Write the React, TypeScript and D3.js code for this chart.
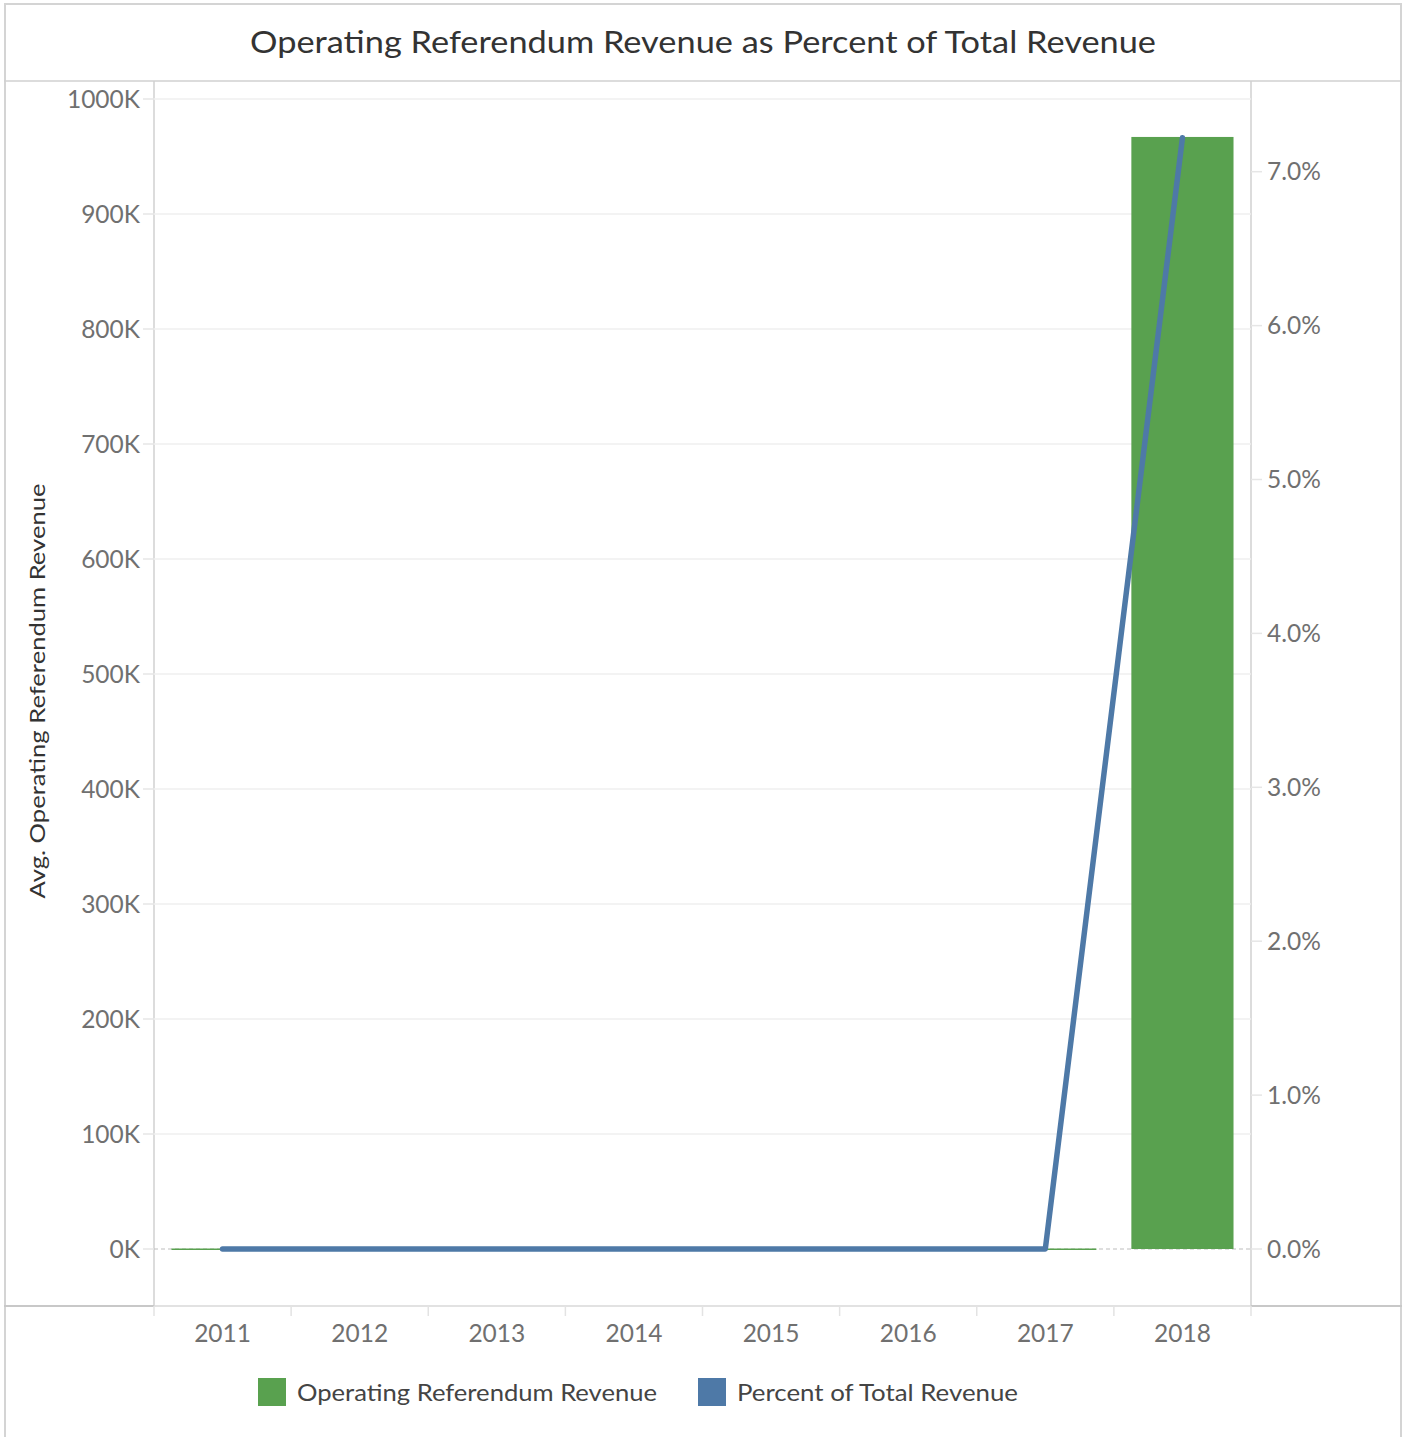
import React from "react";
import * as d3 from "d3";

const years = ["2011", "2012", "2013", "2014", "2015", "2016", "2017", "2018"];
const revenue = [0, 0, 0, 0, 0, 0, 0, 967000];
const percent = [0, 0, 0, 0, 0, 0, 0, 7.22];
const leftTicks = [0, 100000, 200000, 300000, 400000, 500000, 600000, 700000, 800000, 900000, 1000000];
const rightTicks = [0, 1, 2, 3, 4, 5, 6, 7];
const legendItems = [
  { label: "Operating Referendum Revenue", color: "#59a14f" },
  { label: "Percent of Total Revenue", color: "#4e79a7" },
];

const W = 1405;
const H = 1437;
const plotL = 154;
const plotR = 1251;
const plotB = 1306;
const FONT = "Lato, 'Open Sans', sans-serif";

export default function App() {
  const x = d3.scaleBand<string>().domain(years).range([plotL, plotR]).paddingInner(0.255).paddingOuter(0.1275);
  const xc = d3.scaleBand<string>().domain(years).range([plotL, plotR]);
  const yL = d3.scaleLinear().domain([0, 1000000]).range([1249, 99]);
  const yR = d3.scaleLinear().domain([0, 7]).range([1249, 1249 - 7 * 153.9]);

  const line = d3
    .line<number>()
    .x((_, i) => (xc(years[i]) as number) + xc.bandwidth() / 2)
    .y((d) => yR(d));

  const fmtK = (v: number) => `${Math.round(v / 1000)}K`;

  return (
    <svg width={W} height={H} style={{ position: "absolute", left: 0, top: 0, background: "#fff" }} fontFamily={FONT}>
      <rect x={5} y={4} width={1396} height={1440} fill="none" stroke="#d4d4d4" strokeWidth={2} />
      <text x={703} y={53} textAnchor="middle" fontSize={31} fill="#333" textLength={906} lengthAdjust="spacingAndGlyphs">
        Operating Referendum Revenue as Percent of Total Revenue
      </text>
      <line x1={4} x2={1402} y1={81} y2={81} stroke="#d0d0d0" strokeWidth={1.5} />
      <line x1={plotL} x2={plotL} y1={81} y2={plotB} stroke="#d0d0d0" strokeWidth={1.5} />
      <line x1={plotR} x2={plotR} y1={81} y2={plotB} stroke="#d0d0d0" strokeWidth={1.5} />
      <line x1={4} x2={plotL} y1={plotB} y2={plotB} stroke="#c8c8c8" strokeWidth={2} />
      <line x1={plotR} x2={1402} y1={plotB} y2={plotB} stroke="#c8c8c8" strokeWidth={2} />
      <line x1={plotL} x2={plotR} y1={plotB} y2={plotB} stroke="#d8d8d8" strokeWidth={1.5} />

      {leftTicks.slice(1).map((t) => (
        <line key={"g" + t} x1={plotL} x2={plotR} y1={yL(t)} y2={yL(t)} stroke="#efefef" strokeWidth={1.5} />
      ))}
      {leftTicks.map((t) => (
        <g key={"l" + t}>
          <line x1={143} x2={plotL} y1={yL(t)} y2={yL(t)} stroke="#e6e6e6" strokeWidth={1.5} />
          <text x={140} y={yL(t)} dy="0.35em" textAnchor="end" fontSize={24.5} fill="#707070">
            {fmtK(t)}
          </text>
        </g>
      ))}
      {rightTicks.map((t) => (
        <g key={"r" + t}>
          <line x1={plotR} x2={1262} y1={yR(t)} y2={yR(t)} stroke="#e6e6e6" strokeWidth={1.5} />
          <text x={1267} y={yR(t)} dy="0.35em" textAnchor="start" fontSize={24.5} fill="#707070">
            {t.toFixed(1)}%
          </text>
        </g>
      ))}
      <text
        transform={`translate(45, 691) rotate(-90)`}
        textAnchor="middle"
        fontSize={22}
        fill="#333"
        textLength={415}
        lengthAdjust="spacingAndGlyphs"
      >
        Avg. Operating Referendum Revenue
      </text>

      {years.map((yr, i) => (
        <g key={"x" + yr}>
          <line x1={xc(yr) as number} x2={xc(yr) as number} y1={plotB} y2={plotB + 10} stroke="#e3e3e3" strokeWidth={1.5} />
          {i === years.length - 1 && (
            <line x1={plotR} x2={plotR} y1={plotB} y2={plotB + 10} stroke="#e3e3e3" strokeWidth={1.5} />
          )}
          <text x={(xc(yr) as number) + xc.bandwidth() / 2} y={1333} dy="0.35em" textAnchor="middle" fontSize={24.5} fill="#707070">
            {yr}
          </text>
        </g>
      ))}

      <line x1={plotL} x2={plotR} y1={yL(0)} y2={yL(0)} stroke="#bdbdbd" strokeWidth={1.2} strokeDasharray="4,3" />

      {years.map((yr, i) => {
        const top = yL(revenue[i]);
        const h = Math.max(1.5, yL(0) - top);
        return <rect key={"b" + yr} x={x(yr)} y={yL(0) - h + (revenue[i] === 0 ? 1 : 0)} width={x.bandwidth()} height={h} fill="#59a14f" />;
      })}

      <path d={line(percent) as string} fill="none" stroke="#4e79a7" strokeWidth={5.5} strokeLinejoin="round" strokeLinecap="round" />

      {legendItems.map((it, i) => {
        const lx = i === 0 ? 258 : 698;
        const tl = i === 0 ? 360 : 281;
        return (
          <g key={"lg" + i}>
            <rect x={lx} y={1378} width={28} height={28} fill={it.color} />
            <text x={lx + 39} y={1393} dy="0.35em" fontSize={23} fill="#444" textLength={tl} lengthAdjust="spacingAndGlyphs">
              {it.label}
            </text>
          </g>
        );
      })}
    </svg>
  );
}
